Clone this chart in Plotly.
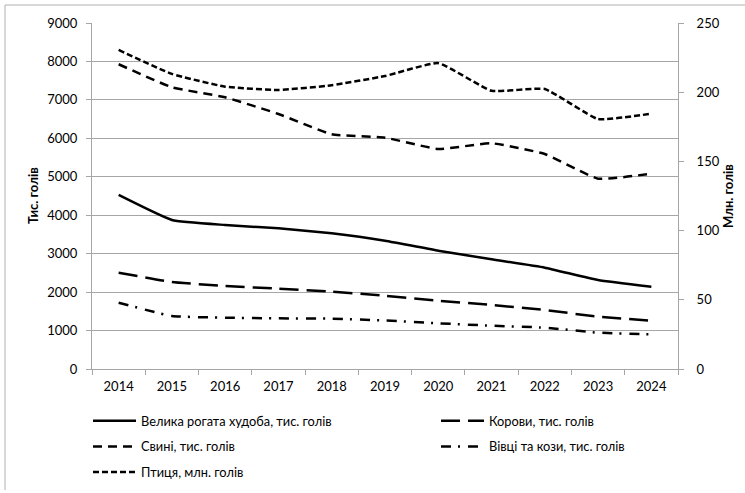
import plotly.graph_objects as go

years = ["2014", "2015", "2016", "2017", "2018", "2019", "2020", "2021", "2022", "2023", "2024"]
cattle = [4527, 3876, 3746, 3660, 3530, 3338, 3078, 2853, 2636, 2315, 2141]
cows = [2505, 2263, 2159, 2089, 2011, 1905, 1777, 1665, 1535, 1361, 1257]
pigs = [7927, 7329, 7067, 6634, 6106, 6018, 5723, 5871, 5593, 4951, 5081]
sheep_goats = [1725, 1379, 1335, 1318, 1309, 1262, 1189, 1127, 1075, 945, 903]
poultry = [230.5, 213.2, 204, 201.6, 205, 211.7, 221, 201, 202.3, 180.6, 184.5]

names = ["Велика рогата худоба, тис. голів", "Корови, тис. голів", "Свині, тис. голів",
         "Вівці та кози, тис. голів", "Птиця, млн. голів"]
left_title = "Тис. голів"
right_title = "Млн. голів"

GRID = "#a6a6a6"
LW = 2.5

fig = go.Figure()

def add(y, name, dash, legend, group, yaxis="y"):
    fig.add_trace(go.Scatter(
        x=years, y=y, name=name, mode="lines", yaxis=yaxis,
        line=dict(color="black", width=LW, dash=dash, shape="spline", smoothing=0.4),
        legend=legend, legendgroup=group, showlegend=True))

add(cattle, names[0], "solid", "legend", "g1")
add(cows, names[1], "19px,8px", "legend2", "g2")
add(pigs, names[2], "9px,6px", "legend", "g3")
add(sheep_goats, names[3], "10px,7px,2px,8px", "legend2", "g4")
add(poultry, names[4], "6px,3px", "legend", "g5", yaxis="y2")

W, H = 745, 493
L, R, T, B = 92, 67, 23, 124
pw, ph = W - L - R, H - T - B

def px_x(x):
    return (x - L) / pw

def px_y(y):
    return (H - B - y) / ph

def cx(x):
    return x / W

def cy(y):
    return 1 - y / H

FAM = "Lato, Carlito, sans-serif"
tickfont = dict(family=FAM, size=13, color="black")
legfont = dict(family=FAM, size=12.8, color="black")

fig.update_layout(
    width=W, height=H,
    margin=dict(l=L, r=R, t=T, b=B, autoexpand=False),
    paper_bgcolor="white", plot_bgcolor="white",
    xaxis=dict(type="category", range=[-0.5, 10.5], showline=True, linecolor=GRID, linewidth=1,
               ticks="outside", tickson="boundaries", ticklen=5, tickcolor=GRID,
               showgrid=False, tickfont=tickfont, zeroline=False, ticklabelstandoff=5,
               automargin=False),
    yaxis=dict(range=[0, 9000], dtick=1000, tick0=0, showline=True, linecolor=GRID, linewidth=1,
               ticks="outside", ticklen=5, tickcolor=GRID, showgrid=True, gridcolor=GRID,
               gridwidth=1, tickfont=tickfont, zeroline=False, ticklabelstandoff=6,
               automargin=False),
    yaxis2=dict(range=[0, 250], dtick=50, tick0=0, overlaying="y", side="right",
                showline=True, linecolor=GRID, linewidth=1, ticks="outside", ticklen=5,
                tickcolor=GRID, showgrid=False, tickfont=tickfont, zeroline=False,
                ticklabelstandoff=10, automargin=False),
    legend=dict(xref="container", yref="container", x=cx(88), y=cy(406),
                xanchor="left", yanchor="top",
                orientation="v", font=legfont, itemwidth=43, tracegroupgap=6,
                traceorder="grouped", bgcolor="rgba(0,0,0,0)"),
    legend2=dict(xref="container", yref="container", x=cx(436), y=cy(406),
                 xanchor="left", yanchor="top",
                 orientation="v", font=legfont, itemwidth=43, tracegroupgap=6,
                 traceorder="grouped", bgcolor="rgba(0,0,0,0)"),
    showlegend=True,
)

fig.add_annotation(text=left_title, xref="paper", yref="paper", x=px_x(33), y=0.5,
                   xanchor="center", yanchor="middle", textangle=-90, showarrow=False,
                   font=dict(family=FAM, size=13, color="black", weight="bold"))
fig.add_annotation(text=right_title, xref="paper", yref="paper", x=px_x(728), y=0.5,
                   xanchor="center", yanchor="middle", textangle=-90, showarrow=False,
                   font=dict(family=FAM, size=13, color="black", weight="bold"))

# chart border (top and left edges visible in the reference)
fig.add_shape(type="line", xref="paper", yref="paper", x0=px_x(5), x1=px_x(760),
              y0=px_y(5), y1=px_y(5), line=dict(color="#b0b0b0", width=1))
fig.add_shape(type="line", xref="paper", yref="paper", x0=px_x(5), x1=px_x(5),
              y0=px_y(5), y1=px_y(490), line=dict(color="#b0b0b0", width=1))

fig.write_html("out.html")
